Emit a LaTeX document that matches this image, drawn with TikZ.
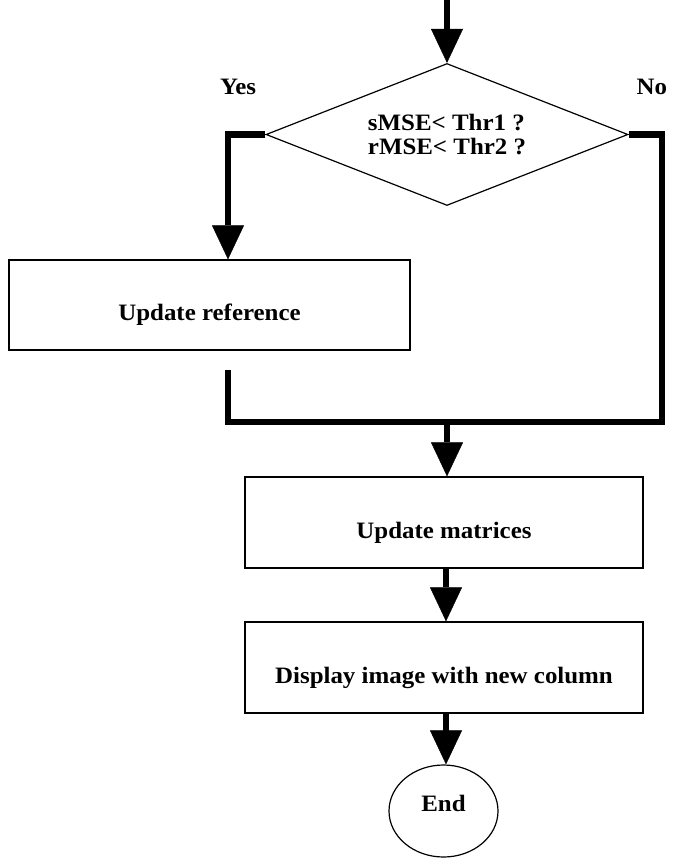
\documentclass[tikz,border=0pt]{standalone}
\usepackage{fontspec}
\setmainfont{Liberation Serif}[FakeStretch=1.06]
\usetikzlibrary{arrows.meta,shapes.geometric}

\tikzset{
  txt/.style={font=\fontsize{23.5}{23.5}\selectfont\bfseries},
  box/.style={draw, line width=1.3pt, rectangle, inner sep=0pt},
  decision/.style={draw, line width=1.2pt, diamond, inner sep=0pt,
    shape aspect=2.55, minimum width=362pt, minimum height=142pt,
    align=left, txt},
  terminal/.style={draw, line width=1.2pt, ellipse, inner sep=0pt,
    minimum width=109pt, minimum height=92pt},
  thickline/.style={line width=6.5pt, line join=miter},
  flow/.style={thickline,
    -{Triangle[width=32pt,length=34pt,line width=0.4pt]}},
}

\begin{document}
\begin{tikzpicture}[x=1pt,y=-1pt]
  \useasboundingbox (0,0) rectangle (673,861);

  % decision
  \node[decision] (dia) at (447,134.5) {sMSE< Thr1 ?\\rMSE< Thr2 ?};
  \node[txt] (yes) at (238,87) {Yes};
  \node[txt, anchor=west] (no) at (633,87) {No};

  % process boxes
  \node[box, minimum width=401pt, minimum height=90pt,
        label={[txt, yshift=-10pt]center:Update reference}] (ref) at (209.5,305) {};
  \node[box, minimum width=398pt, minimum height=91pt,
        label={[txt, yshift=-10pt]center:Update matrices}] (mat) at (444,522.5) {};
  \node[box, minimum width=398pt, minimum height=91pt,
        label={[txt, yshift=-10pt]center:Display image with new column}] (disp) at (444,667.5) {};
  \node[terminal, label={[txt, yshift=8pt]center:End}] (endn) at (443.5,811) {};

  % routing points
  \coordinate (start) at (447,0);
  \coordinate (refout) at (228,370);
  \coordinate (jl) at (228,422);
  \coordinate (jr) at (662,422);
  \coordinate (jc) at (447,422);

  % connectors
  \draw[flow] (start) -- (dia.north);
  \draw[flow] (dia.west) -| ([xshift=18.5pt]ref.north);
  \draw[thickline] (dia.east) -| (jr) -- (jl) -- (refout);
  \draw[flow] (jc) -- (jc |- mat.north);
  \draw[flow] ([xshift=2pt]mat.south) -- ([xshift=2pt]disp.north);
  \draw[flow] ([xshift=2pt]disp.south) -- ([xshift=2pt]disp.south |- endn.north);
\end{tikzpicture}
\end{document}
